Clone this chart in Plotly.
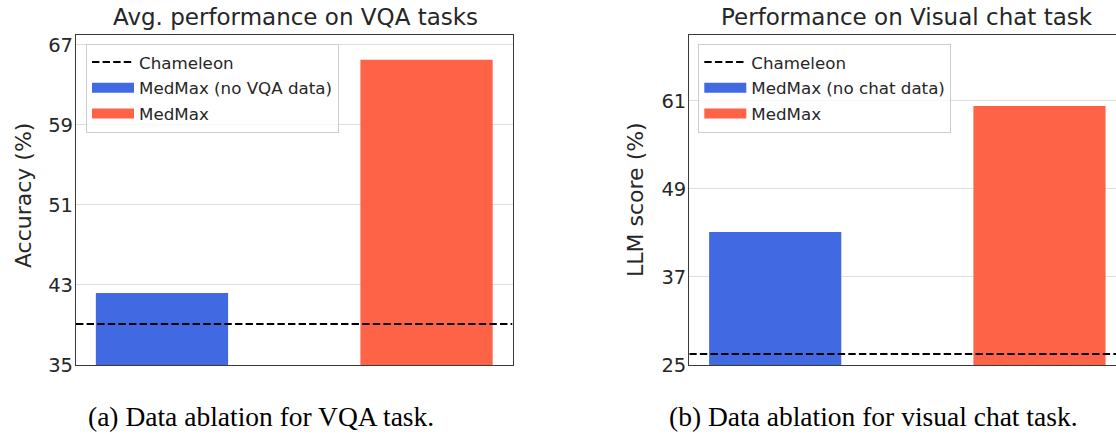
import plotly.graph_objects as go

# ---- data ----
vqa_labels = ["MedMax (no VQA data)", "MedMax"]
vqa_values = [42.2, 65.5]
vqa_chameleon = 39.1
vqa_ticks = [35, 43, 51, 59, 67]

chat_labels = ["MedMax (no chat data)", "MedMax"]
chat_values = [43.1, 60.3]
chat_chameleon = 26.5
chat_ticks = [25, 37, 49, 61]

bar_colors = ["#4169E1", "#FF6347"]

W, H = 1116, 442
TXT = "#262626"
FONT = "DejaVu Sans"

def px_x(v):
    return v / W

def px_y(v):
    return (H - v) / H

fig = go.Figure()

x_positions = [0, 1]
left_range = [-0.325, 1.325]
right_range = [-0.325, -0.325 + (W - 689.3) / 264.3]

def add_panel(xa, ya, legend_name, labels, values, cham, xr):
    fig.add_trace(go.Scatter(
        x=xr, y=[cham, cham], mode="lines",
        line=dict(color="black", width=2, dash="7.4px,3.2px"),
        name="Chameleon", legend=legend_name, legendgroup=legend_name + "c",
        xaxis=xa, yaxis=ya, hoverinfo="skip"))
    for i, (lab, val) in enumerate(zip(labels, values)):
        fig.add_trace(go.Bar(
            x=[x_positions[i]], y=[val], width=0.5,
            marker=dict(color=bar_colors[i], line=dict(width=0)),
            showlegend=False, xaxis=xa, yaxis=ya, name=lab))
        fig.add_trace(go.Scatter(
            x=[None], y=[None], mode="lines",
            line=dict(color=bar_colors[i], width=10),
            name=lab, legend=legend_name, legendgroup=legend_name + str(i),
            xaxis=xa, yaxis=ya))

add_panel("x", "y", "legend", vqa_labels, vqa_values, vqa_chameleon, left_range)
add_panel("x2", "y2", "legend2", chat_labels, chat_values, chat_chameleon, right_range)

ybot = px_y(375)
ytop = px_y(34.7)

axis_line = dict(showline=True, linecolor="#3a3a3a", linewidth=1.25)
grid = dict(showgrid=True, gridcolor="#dddddd", gridwidth=1.2, zeroline=False)
tickfont = dict(family=FONT, size=19.5, color=TXT)

legend_common = dict(xanchor="left", yanchor="top",
                     bgcolor="rgba(255,255,255,0.8)", bordercolor="#cccccc", borderwidth=1,
                     font=dict(family=FONT, size=16.7, color=TXT), tracegroupgap=1,
                     itemwidth=42)

fig.update_layout(
    width=W, height=H,
    margin=dict(l=0, r=0, t=0, b=0),
    paper_bgcolor="white", plot_bgcolor="white",
    barmode="overlay",
    xaxis=dict(domain=[px_x(76), px_x(512.5)], range=left_range,
               showticklabels=False, showgrid=False, zeroline=False,
               mirror=True, anchor="y", **axis_line),
    yaxis=dict(domain=[ybot, ytop], range=[35, 68], tickvals=vqa_ticks,
               ticks="", ticklabelstandoff=-2,
               tickfont=tickfont, mirror=True, anchor="x", **axis_line, **grid),
    xaxis2=dict(domain=[px_x(689.3), 1.0], range=right_range,
                showticklabels=False, showgrid=False, zeroline=False,
                mirror=True, anchor="y2", **axis_line),
    yaxis2=dict(domain=[ybot, ytop], range=[25, 70], tickvals=chat_ticks,
                ticks="", ticklabelstandoff=-2,
                tickfont=tickfont, mirror=False, anchor="x2", **axis_line, **grid),
    legend=dict(x=px_x(86), y=px_y(44), **legend_common),
    legend2=dict(x=px_x(698.3), y=px_y(44), **legend_common),
    showlegend=True,
)

annotations = [
    dict(text="Avg. performance on VQA tasks", x=px_x(295), y=px_y(17),
         font=dict(family=FONT, size=23, color=TXT)),
    dict(text="Performance on Visual chat task", x=px_x(907), y=px_y(17),
         font=dict(family=FONT, size=23, color=TXT)),
    dict(text="Accuracy (%)", x=px_x(23), y=px_y(200), textangle=-90,
         font=dict(family=FONT, size=22, color=TXT)),
    dict(text="LLM score (%)", x=px_x(636), y=px_y(205), textangle=-90,
         font=dict(family=FONT, size=22, color=TXT)),
    dict(text="(a) Data ablation for VQA task.", x=px_x(261), y=px_y(428),
         font=dict(family="Liberation Serif", size=27.5, color="black")),
    dict(text="(b) Data ablation for visual chat task.", x=px_x(873), y=px_y(428),
         font=dict(family="Liberation Serif", size=27.5, color="black")),
]
for a in annotations:
    a.update(xref="paper", yref="paper", xanchor="center", yanchor="middle",
             showarrow=False)
fig.update_layout(annotations=annotations)

page_fix = (
    "var s=document.documentElement.style;s.margin='0';s.padding='0';"
    "s.overflow='hidden';s.height='442px';"
    "var b=document.body.style;b.margin='0';b.padding='0';"
    "b.overflow='hidden';b.height='442px';"
)
fig.write_html("out.html", config={"displayModeBar": False}, post_script=page_fix)
